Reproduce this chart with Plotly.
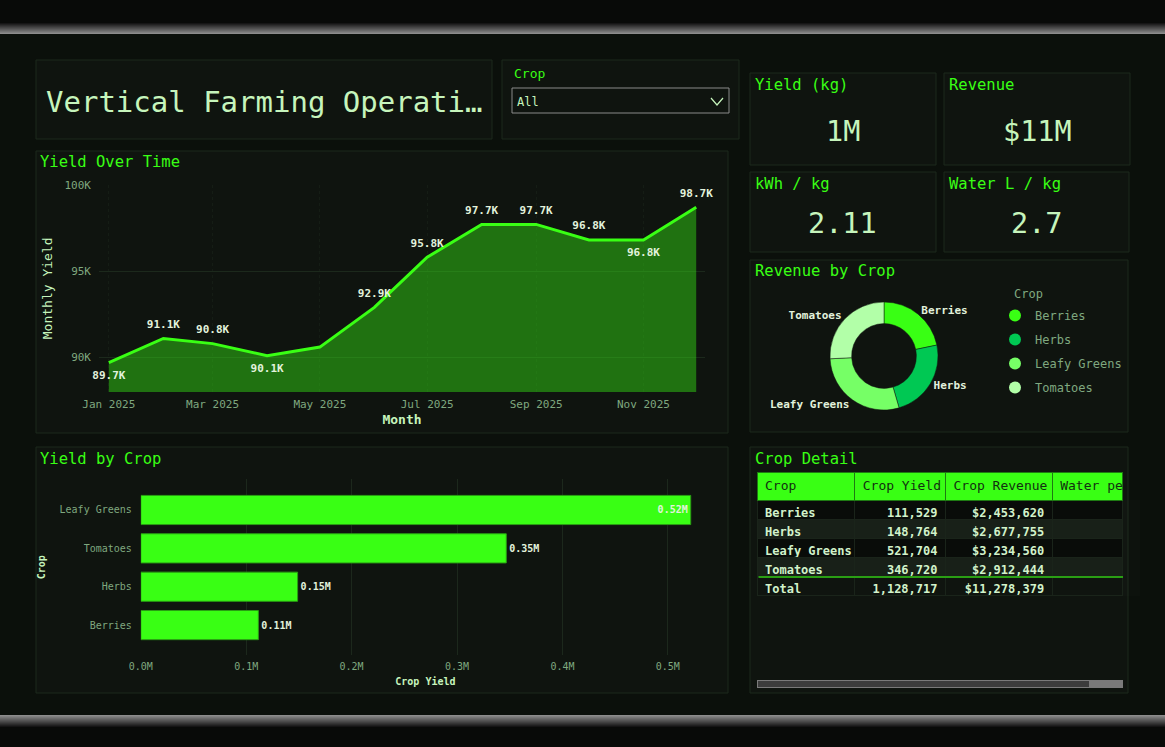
import plotly.graph_objects as go

W, H = 1165, 747

# ---------------- data ----------------
months = ["2025-01-01", "2025-02-01", "2025-03-01", "2025-04-01", "2025-05-01", "2025-06-01",
          "2025-07-01", "2025-08-01", "2025-09-01", "2025-10-01", "2025-11-01", "2025-12-01"]
monthly_yield = [89700, 91100, 90800, 90100, 90600, 92900, 95800, 97700, 97700, 96800, 96800, 98700]
label_shown = [True, True, True, True, False, True, True, True, True, True, True, True]
label_pos = ["bottom center", "top center", "top center", "bottom center", "top center", "top center",
             "top center", "top center", "top center", "top center", "bottom center", "top center"]

crops = ["Berries", "Herbs", "Leafy Greens", "Tomatoes"]
crop_yield = [111529, 148764, 521704, 346720]
crop_revenue = [2453620, 2677755, 3234560, 2912444]
crop_colors = ["#39FF14", "#00C853", "#76FF66", "#B2FFA8"]
bar_text_pos = ["outside", "outside", "inside", "outside"]

kpi_titles = ["Yield (kg)", "Revenue", "kWh / kg", "Water L / kg"]
kpi_values = ["1M", "$11M", "2.11", "2.7"]

line_y_tickvals = [90000, 95000, 100000]
line_y_ticktext = ["90K", "95K", "100K"]
bar_x_tickvals = [0, 100000, 200000, 300000, 400000, 500000]
bar_x_ticktext = ["0.0M", "0.1M", "0.2M", "0.3M", "0.4M", "0.5M"]

table_headers = ["Crop", "Crop Yield", "Crop Revenue", "Water per kg"]

# ---------------- style ----------------
FONT = "DejaVu Sans Mono"
NEON = "#39FF14"
LIGHT = "#C6F5BC"
MUTED = "#7FA87F"
PANEL = "#0F140F"
BORDER = "#1C281C"
NB = "\u00a0"


def X(px):
    return px / W


def Y(py):
    return 1 - py / H


shapes = []


def rect(x0, y0, x1, y1, fill, line=None, lw=1):
    shapes.append(dict(type="rect", xref="paper", yref="paper", layer="below",
                       x0=X(x0), x1=X(x1), y0=Y(y1), y1=Y(y0),
                       fillcolor=fill, line=dict(color=line or fill, width=lw if line else 0)))


# outer bands
rect(0, 0, W, 23, "#080A08")
for i in range(11):
    g = int(10 + (140 - 10) * (i + 1) / 11)
    rect(0, 23 + i, W, 24 + i, f"rgb({g},{g},{g})")
rect(0, 715, W, H, "#080A08")
for i in range(12):
    g = int(140 - (140 - 10) * i / 12)
    rect(0, 715 + i, W, 716 + i, f"rgb({g},{g},{g})")

# panels
panels = [
    (36, 60, 492, 139), (502, 60, 739, 139),
    (750, 73, 936, 165), (944, 73, 1130, 165), (750, 172, 936, 252), (944, 172, 1129, 252),
    (36, 151, 728, 433), (750, 260, 1128, 432),
    (36, 447, 728, 693), (750, 447, 1128, 693),
]
for p in panels:
    rect(*p, PANEL, BORDER, 1)

# dropdown
rect(512, 88, 729, 113, "#0F140F", "#8A8A8A", 1)
shapes.append(dict(type="path", xref="paper", yref="paper", layer="below",
                   path=f"M {X(711)} {Y(98)} L {X(717)} {Y(105)} L {X(723)} {Y(98)}",
                   line=dict(color="#C6F5BC", width=1.2)))
# scrollbar
rect(757, 680, 1123, 688, "#7A7A7A")
rect(758, 681, 1089, 687, "#3C3C3C")

annotations = []


def text(x, y, s, size, color, xanchor="left", weight="normal"):
    annotations.append(dict(x=X(x), y=Y(y), xref="paper", yref="paper", text=s, showarrow=False,
                            xanchor=xanchor, yanchor="middle",
                            font=dict(family=FONT, size=size, color=color, weight=weight)))


text(44, 102, "Vertical Farming Operati…", 29, LIGHT)
text(512, 73, "Crop", 13, NEON)
text(515, 102, "All", 12, LIGHT)

kpi_pos = [(753, 85, 843, 132), (947, 85, 1037, 132), (753, 184, 842, 224), (947, 184, 1036, 224)]
for (tx, ty, vx, vy), t, v in zip(kpi_pos, kpi_titles, kpi_values):
    text(tx, ty, t, 15.5, NEON)
    text(vx, vy, v, 28.5, LIGHT, xanchor="center")

text(38, 162, "Yield Over Time", 15.5, NEON)
text(753, 271, "Revenue by Crop", 15.5, NEON)
text(38, 459, "Yield by Crop", 15.5, NEON)
text(753, 459, "Crop Detail", 15.5, NEON)
text(1012, 294, "Crop", 12, MUTED)  # legend title

# green separator above total row in table
annotations.append(dict(x=X(1123), y=Y(577), xref="paper", yref="paper", ax=-366, ay=0,
                        axref="pixel", ayref="pixel", text="", showarrow=True,
                        arrowhead=0, arrowwidth=2, arrowcolor="#2A9E14", standoff=0, startstandoff=0))

fig = go.Figure()

# ---------------- line chart ----------------
line_text = [f"{v/1000:.1f}K" if s else "" for v, s in zip(monthly_yield, label_shown)]
fig.add_trace(go.Scatter(
    x=months, y=monthly_yield, mode="lines+markers+text", text=line_text, textposition=label_pos,
    textfont=dict(family=FONT, size=11, color="#E2F2DC", weight="bold"),
    marker=dict(size=11, color="rgba(0,0,0,0)"),
    line=dict(color=NEON, width=3), fill="tozeroy", fillcolor="rgba(57,255,20,0.40)",
    showlegend=False, cliponaxis=False, xaxis="x", yaxis="y", hoverinfo="skip"))

# legend entries for the donut (circle markers)
for c, col in zip(crops, crop_colors):
    fig.add_trace(go.Scatter(x=[None], y=[None], mode="markers", name=c, legendgroup=c,
                             marker=dict(color=col, size=10, symbol="circle"),
                             xaxis="x", yaxis="y", showlegend=True))

# ---------------- bar chart ----------------
bar_text = [f"{v/1e6:.2f}M" for v in crop_yield]
fig.add_trace(go.Bar(
    x=crop_yield, y=crops, orientation="h", marker=dict(color=NEON, line=dict(color="#2A9E14", width=1)),
    text=bar_text, textposition=bar_text_pos, insidetextanchor="end",
    textfont=dict(family=FONT, size=10, color="#E2F2DC", weight="bold"),
    width=0.76, showlegend=False, cliponaxis=False, xaxis="x2", yaxis="y2", hoverinfo="skip"))

# ---------------- donut ----------------
fig.add_trace(go.Pie(
    labels=crops, values=crop_revenue, hole=0.6, sort=False, direction="clockwise", rotation=0,
    marker=dict(colors=crop_colors, line=dict(color="#0F140F", width=0.5)),
    textinfo="label", textposition="outside",
    outsidetextfont=dict(family=FONT, size=11, color="#E2F2DC", weight="bold"),
    domain=dict(x=[X(830), X(938)], y=[Y(410), Y(302)]), showlegend=False, hoverinfo="skip"))

# ---------------- table ----------------
total_yield = sum(crop_yield)
total_rev = sum(crop_revenue)
col1 = [c.replace(" ", NB) for c in crops] + ["Total"]
col2 = [f"{v:,}" for v in crop_yield] + [f"{total_yield:,}"]
col3 = [f"${v:,}" for v in crop_revenue] + [f"${total_rev:,}"]
col4 = [""] * 5
row_fill = ["#090C09", "#182018", "#090C09", "#182018", PANEL]
fig.add_trace(go.Table(
    domain=dict(x=[X(757), X(1123)], y=[Y(596), Y(472)]),
    columnwidth=[98, 91, 107, 70],
    header=dict(values=[h.replace(" ", NB) for h in table_headers], fill=dict(color=NEON), height=28,
                align="left", line=dict(color="#1E7A12", width=1),
                font=dict(family=FONT, size=13, color="#123010")),
    cells=dict(values=[col1, col2, col3, col4], height=19,
               align=["left", "right", "right", "right"],
               fill=dict(color=[row_fill] * 4), line=dict(color="#1A241A", width=1),
               font=dict(family=FONT, size=12, color="#D2F2CA", weight="bold"))))

axis_font = dict(family=FONT, size=11, color=MUTED)

fig.update_layout(
    width=W, height=H, margin=dict(l=0, r=0, t=0, b=0, pad=0, autoexpand=False),
    paper_bgcolor="#0B100B", plot_bgcolor="rgba(0,0,0,0)",
    font=dict(family=FONT, color=LIGHT),
    shapes=shapes, annotations=annotations,
    xaxis=dict(domain=[X(99), X(705)], type="date", range=["2024-12-26 10:00", "2025-12-06"],
               tick0="2025-01-01", dtick="M2", tickformat="%b %Y", tickfont=axis_font,
               showgrid=True, gridcolor="#151D15", griddash="dot", zeroline=False, showline=False,
               ticklabelstandoff=4,
               title=dict(text="Month", font=dict(family=FONT, size=13, color=LIGHT, weight="bold"),
                          standoff=4),
               anchor="y", automargin=False),
    yaxis=dict(domain=[Y(392), Y(184.7)], range=[88000, 100000], tickvals=line_y_tickvals,
               ticktext=line_y_ticktext, tickfont=axis_font, showgrid=True, gridcolor="#1C291C",
               zeroline=False, showline=False, ticklabelstandoff=7,
               title=dict(text="Monthly Yield", font=dict(family=FONT, size=13, color=LIGHT), standoff=8),
               anchor="x", automargin=False),
    xaxis2=dict(domain=[X(140.8), X(710)], range=[0, 540000], tickvals=bar_x_tickvals,
                ticktext=bar_x_ticktext, tickfont=dict(family=FONT, size=10, color=MUTED),
                showgrid=True, gridcolor="#1C281C", zeroline=False, showline=False,
                ticklabelstandoff=4,
                title=dict(text="Crop Yield", font=dict(family=FONT, size=10, color=LIGHT, weight="bold"),
                           standoff=6),
                anchor="y2", automargin=False),
    yaxis2=dict(domain=[Y(655), Y(479.3)], range=[-0.78, 3.8], categoryorder="total ascending",
                tickfont=dict(family=FONT, size=10, color=MUTED), showgrid=False, zeroline=False,
                ticklabelstandoff=8,
                title=dict(text="Crop", font=dict(family=FONT, size=10, color=LIGHT, weight="bold"),
                           standoff=12),
                anchor="x2", automargin=False),
    legend=dict(x=X(995), y=Y(301), xanchor="left", yanchor="top", bgcolor="rgba(0,0,0,0)",
                font=dict(family=FONT, size=12, color=MUTED), tracegroupgap=5, itemsizing="constant"),
)

fig.write_html("out.html")
